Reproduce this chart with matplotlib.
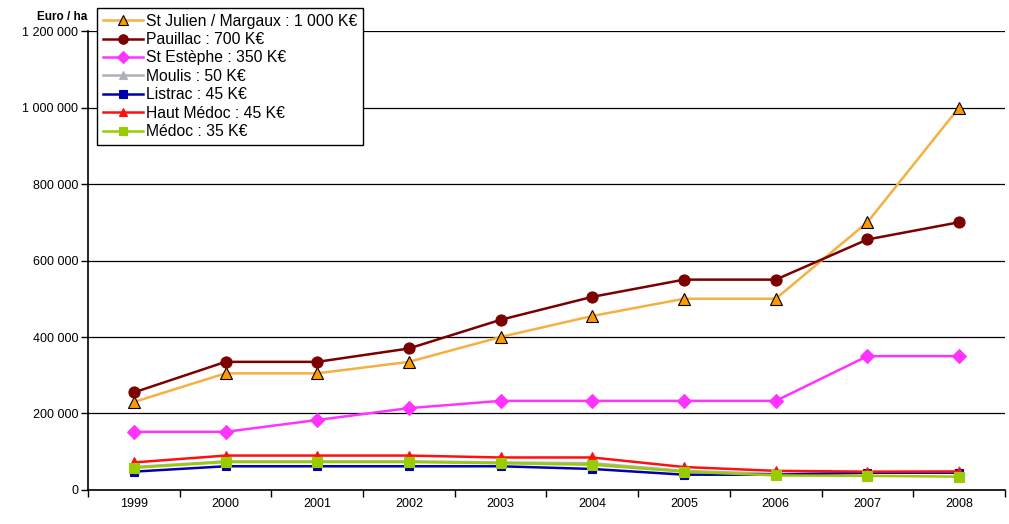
import numpy as np
import matplotlib.pyplot as plt
from matplotlib.ticker import FuncFormatter, MultipleLocator

plt.rcParams['font.family'] = ['Liberation Sans', 'DejaVu Sans']

# donnees (euro / ha)
annees = ['1999', '2000', '2001', '2002', '2003', '2004', '2005', '2006', '2007', '2008']
st_julien = [230000, 305000, 305000, 335000, 400000, 455000, 500000, 500000, 700000, 1000000]
pauillac = [255000, 335000, 335000, 370000, 445000, 505000, 550000, 550000, 655000, 700000]
st_estephe = [152000, 152000, 183000, 214000, 233000, 233000, 233000, 233000, 350000, 350000]
moulis = [60000, 75000, 75000, 75000, 72000, 70000, 50000, 42000, 45000, 50000]
listrac = [48000, 62000, 62000, 62000, 62000, 55000, 40000, 40000, 45000, 45000]
haut_medoc = [72000, 90000, 90000, 90000, 85000, 85000, 60000, 50000, 48000, 48000]
medoc = [58000, 73000, 73000, 73000, 70000, 66000, 48000, 38000, 37000, 35000]

noms = ['St Julien / Margaux : 1 000 K€', 'Pauillac : 700 K€', 'St Estèphe : 350 K€',
        'Moulis : 50 K€', 'Listrac : 45 K€', 'Haut Médoc : 45 K€', 'Médoc : 35 K€']
series = [st_julien, pauillac, st_estephe, moulis, listrac, haut_medoc, medoc]
couleurs = ['#F5B041', '#7B0000', '#FF33FF', '#B0B0B8', '#0000B0', '#FF1010', '#99CC00']
marqueurs = ['^', 'o', 'D', '^', 's', '^', 's']
tailles = [9, 8, 7, 7, 6, 7, 7]
bords = ['black', '#7B0000', '#FF33FF', '#B0B0B8', '#0000B0', '#FF1010', '#99CC00']
mcoul = ['#FF9900', '#7B0000', '#FF33FF', '#B0B0B8', '#0000B0', '#FF1010', '#99CC00']

fig = plt.figure(figsize=(10.09, 5.24), dpi=100)
ax = fig.add_axes([0.0872, 0.0649, 0.9088, 0.8759])

x = np.arange(len(annees))
for s, nom, c, m, t, b, mc in zip(series, noms, couleurs, marqueurs, tailles, bords, mcoul):
    ax.plot(x, s, color=c, lw=1.8, marker=m, ms=t, mfc=mc, mec=b, mew=0.8, label=nom)

ax.set_xlim(-0.5, len(annees) - 0.5)
ax.set_ylim(0, 1200000)
ax.yaxis.set_major_locator(MultipleLocator(200000))
ax.yaxis.set_major_formatter(FuncFormatter(lambda v, p: f'{int(v):,}'.replace(',', ' ')))
ax.grid(axis='y', color='black', lw=0.9)
ax.set_axisbelow(True)

ax.set_xticks(x)
ax.set_xticklabels(annees)
ax.set_xticks(np.arange(-0.5, len(annees)), minor=True)
ax.tick_params(axis='x', which='major', length=0, pad=6, labelsize=9)
ax.tick_params(axis='x', which='minor', length=5, width=1)
ax.tick_params(axis='y', length=5, width=1, labelsize=9, pad=2)

for sp in ['top', 'right']:
    ax.spines[sp].set_visible(False)
for sp in ['left', 'bottom']:
    ax.spines[sp].set_linewidth(1.2)

fig.text(0.037, 0.962, 'Euro / ha', fontsize=8.5, fontweight='bold')

leg = ax.legend(loc='upper left', bbox_to_anchor=(0.01, 1.05), fontsize=11.3,
                frameon=True, fancybox=False, edgecolor='black', framealpha=1,
                handlelength=2.6, handletextpad=0.15, labelspacing=0.22,
                borderpad=0.35, borderaxespad=0, markerscale=0.85)
leg.get_frame().set_linewidth(1)

fig.savefig('out.png', dpi=100)
